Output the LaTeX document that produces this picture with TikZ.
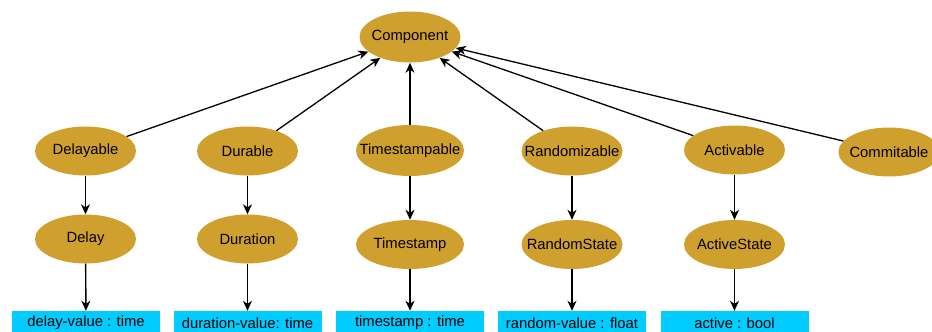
\documentclass[tikz,border=0pt]{standalone}
\usepackage{fontspec}
\setmainfont{Liberation Sans}
\usetikzlibrary{shapes.geometric,arrows.meta}
\definecolor{gold}{RGB}{208,160,46}
\definecolor{cyanbox}{RGB}{0,204,255}
\tikzset{
  ell/.style={ellipse,fill=gold,draw=none,minimum width=101pt,minimum height=49pt,inner sep=0pt,font=\fontsize{14.8}{17}\selectfont,
    execute at begin node={\hbox to 0pt\bgroup\hss},execute at end node={\hss\egroup}},
  attr/.style={rectangle,fill=cyanbox,draw=none,minimum width=148pt,minimum height=24pt,inner sep=0pt,font=\fontsize{14.8}{17}\selectfont},
  arr/.style={line width=1.4pt,-{Stealth[length=10pt,width=9pt,inset=3pt]}},
  ln/.style={line width=1.3pt,-{Stealth[length=10pt,width=9pt,inset=3pt]}}
}
\begin{document}
\begin{tikzpicture}[x=1pt,y=-1pt]
\useasboundingbox (0,0) rectangle (932,332);
\clip (0,0) rectangle (932,332);
\node[ell,minimum height=51pt] (comp) at (410,37) {Component};
\node[ell] (delayable) at (85.5,151) {Delayable};
\node[ell] (durable) at (247.5,151) {Durable};
\node[ell,minimum width=108pt,minimum height=51pt] (tsable) at (410,150.5) {Timestampable};
\node[ell] (randable) at (572,151) {Randomizable};
\node[ell] (actable) at (734.5,150) {Activable};
\node[ell] (commit) at (889,152) {Commitable};
\node[ell] (delay) at (85.5,239) {Delay};
\node[ell] (duration) at (247.5,239) {Duration};
\node[ell,minimum width=108pt] (ts) at (410,244.5) {Timestamp};
\node[ell] (rstate) at (572,244.5) {RandomState};
\node[ell] (astate) at (734.5,244.5) {ActiveState};
\node[attr] (b1) at (86,323) {delay-value : time};
\node[attr] (b2) at (247.5,323) {duration-value: time};
\node[attr] (b3) at (410,323) {timestamp : time};
\node[attr] (b4) at (572,323) {random-value : float};
\node[attr] (b5) at (734.5,323) {active : bool};
\draw[ln] (delayable) -- (comp);
\draw[ln] (durable) -- (comp);
\draw[ln] (tsable) -- (comp);
\draw[ln] (randable) -- (comp);
\draw[ln] (actable) -- (comp);
\draw[ln] (commit) -- (comp);
\draw[arr] (delayable) -- (delay);
\draw[arr] (durable) -- (duration);
\draw[arr] (tsable) -- (ts);
\draw[arr] (randable) -- (rstate);
\draw[arr] (actable) -- (astate);
\draw[arr] (delay) -- (b1);
\draw[arr] (duration) -- (b2);
\draw[arr] (ts) -- (b3);
\draw[arr] (rstate) -- (b4);
\draw[arr] (astate) -- (b5);
\end{tikzpicture}
\end{document}
